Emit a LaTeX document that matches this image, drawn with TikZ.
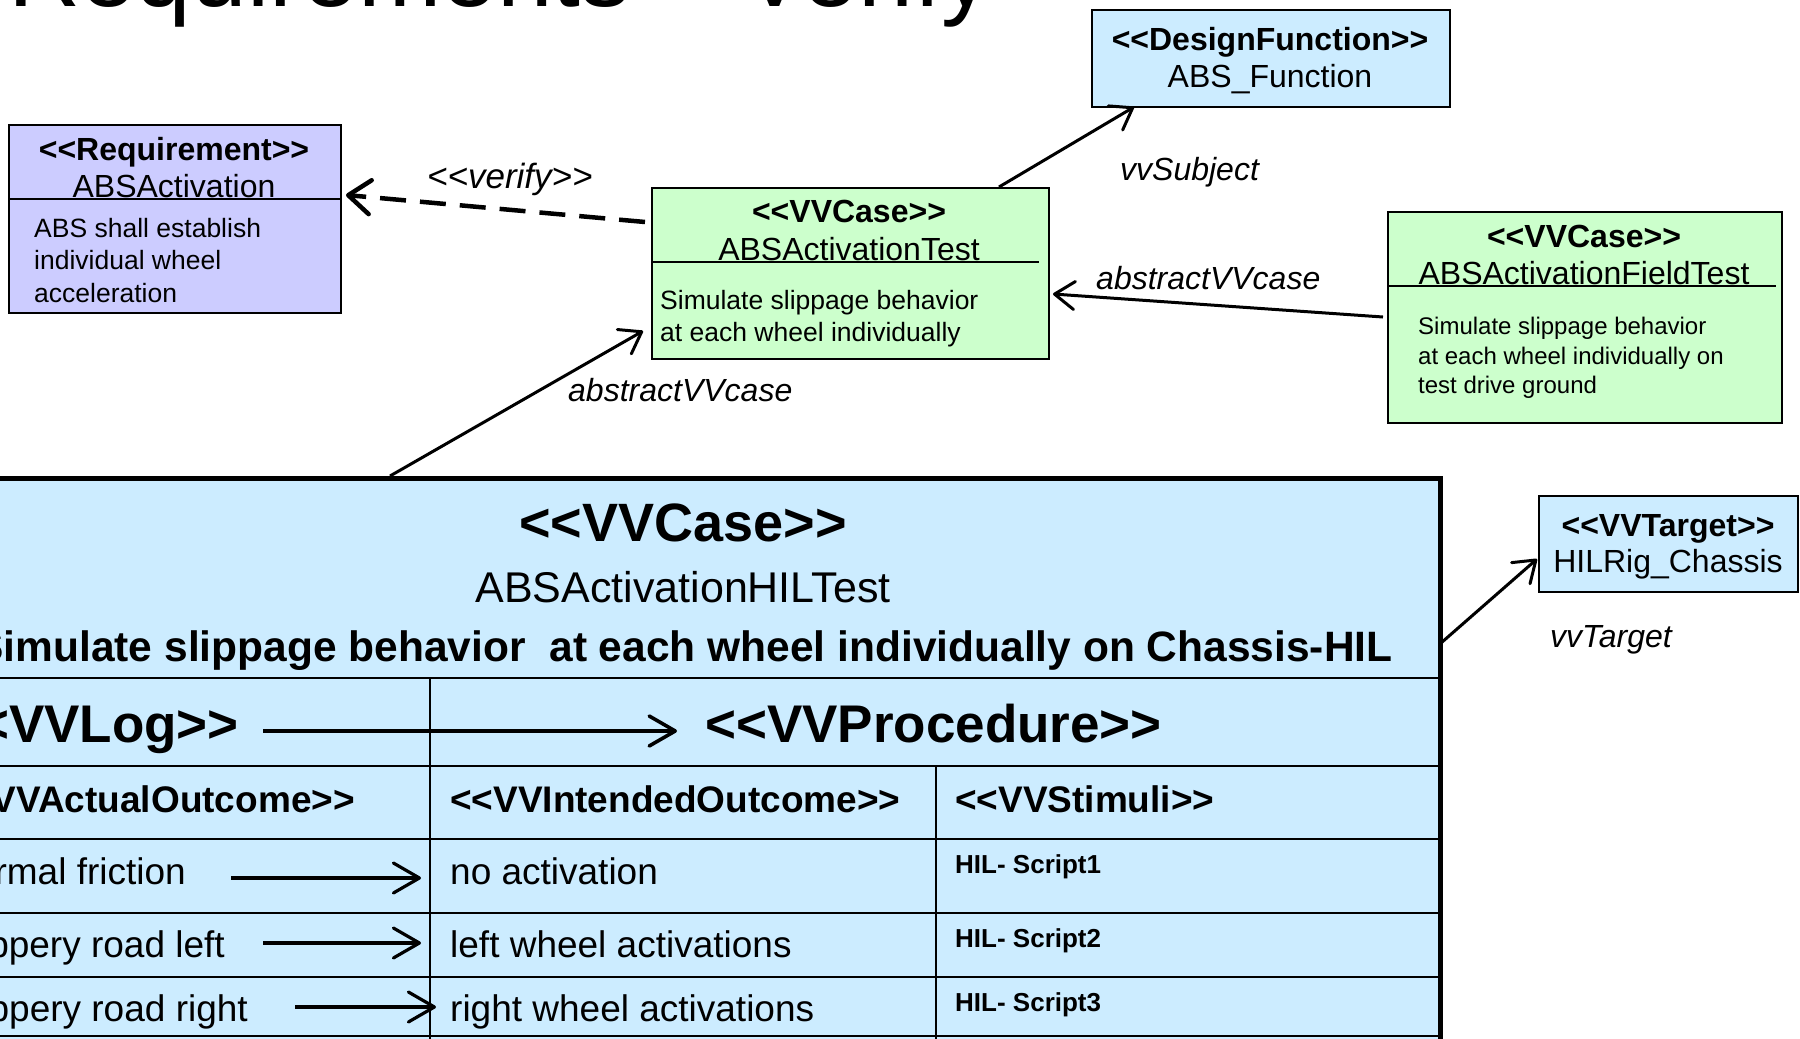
\documentclass[tikz,border=0pt]{standalone}
\usepackage{fontspec}
\setmainfont{Liberation Sans}
\usetikzlibrary{arrows.meta,calc}
\definecolor{reqfill}{HTML}{CCCCFF}
\definecolor{vvgreen}{HTML}{CCFFCC}
\definecolor{vvblue}{HTML}{CCECFF}
\newcommand{\fsz}[1]{\fontsize{#1}{#1}\selectfont}
\newcommand{\stereo}[1]{<{}<#1>{}>}
\begin{document}
\begin{tikzpicture}[x=1pt,y=-1pt,
  box/.style={draw=black, line width=2pt, rectangle, inner sep=0pt, anchor=north west},
  bigbox/.style={draw=black, line width=5pt, rectangle, inner sep=0pt, anchor=north west, fill=vvblue},
  txt/.style={inner sep=0pt, anchor=base},
  txtl/.style={inner sep=0pt, anchor=base west},
  txtr/.style={inner sep=0pt, anchor=base east},
  divider/.style={draw=black, line width=1.5pt},
  cell/.style={draw=black, line width=2.5pt},
  conn/.style={draw=black, line width=3pt, -{Straight Barb[length=20pt,width=28pt,round]}},
  verifyconn/.style={draw=black, line width=4.5pt, dash pattern=on 26pt off 14pt, -{Straight Barb[length=22pt,width=34pt,round]}},
  inner/.style={draw=black, line width=3.2pt, -{Straight Barb[length=26pt,width=30pt,round]}},
  lbl/.style={inner sep=0pt, anchor=base west, font=\fsz{32}\itshape}
]
\clip (0,0) rectangle (1800,1039);
\useasboundingbox (0,0) rectangle (1800,1039);
\fill[white] (0,0) rectangle (1800,1039);

% title (cut off at the top)
\node[txtl, font=\fsz{100}] (title) at (8,6) {Requirements – Verify};

% Requirement box
\node[box, fill=reqfill, minimum width=332pt, minimum height=188pt] (req) at (8,124) {};
\draw[divider] (req.west |- 0,199) -- (req.east |- 0,199);
\node[txt, font=\fsz{32}\bfseries] (reqst) at (174,160) {\stereo{Requirement}};
\node[txt, font=\fsz{32}] (reqname) at (174,197.5) {ABSActivation};
\node[txtl, font=\fsz{26.5}] (reqb1) at (34,237) {ABS shall establish};
\node[txtl, font=\fsz{26.5}] (reqb2) at (34,269.5) {individual wheel};
\node[txtl, font=\fsz{26.5}] (reqb3) at (34,302) {acceleration};

% DesignFunction box
\node[box, fill=vvblue, minimum width=358pt, minimum height=97pt] (func) at (1091,9) {};
\node[txt, font=\fsz{32}\bfseries] (funcst) at (1270,50.5) {\stereo{DesignFunction}};
\node[txt, font=\fsz{32}] (funcname) at (1270,87.5) {ABS\_Function};

% ABSActivationTest box
\node[box, fill=vvgreen, minimum width=397pt, minimum height=171pt] (test) at (651,187) {};
\draw[divider] (test.west |- 0,262) -- (1039,262);
\node[txt, font=\fsz{32}\bfseries] (testst) at (849,222.5) {\stereo{VVCase}};
\node[txt, font=\fsz{32}] (testname) at (849,260.5) {ABSActivationTest};
\node[txtl, font=\fsz{26.5}] (testb1) at (660,309.5) {Simulate slippage behavior};
\node[txtl, font=\fsz{26.5}] (testb2) at (660,341.5) {at each wheel individually};

% ABSActivationFieldTest box
\node[box, fill=vvgreen, minimum width=394pt, minimum height=211pt] (field) at (1387,211) {};
\draw[divider] (field.west |- 0,286) -- (1776,286);
\node[txt, font=\fsz{32}\bfseries] (fieldst) at (1584,247.5) {\stereo{VVCase}};
\node[txt, font=\fsz{32}] (fieldname) at (1584,284.5) {ABSActivationFieldTest};
\node[txtl, font=\fsz{24}] (fieldb1) at (1418,334.5) {Simulate slippage behavior};
\node[txtl, font=\fsz{24}] (fieldb2) at (1418,364.5) {at each wheel individually on};
\node[txtl, font=\fsz{24}] (fieldb3) at (1418,393.5) {test drive ground};

% VVTarget box
\node[box, fill=vvblue, minimum width=259pt, minimum height=96pt] (target) at (1538,495) {};
\node[txt, font=\fsz{32}\bfseries] (targetst) at (1668,536.5) {\stereo{VVTarget}};
\node[txt, font=\fsz{32}] (targetname) at (1668,572.5) {HILRig\_Chassis};

% big HIL test box
\node[bigbox, minimum width=1518pt, minimum height=590pt] (hil) at (-80,476) {};
\draw[cell] (hil.west |- 0,678) -- (hil.east |- 0,678);
\draw[cell] (hil.west |- 0,766) -- (hil.east |- 0,766);
\draw[cell] (hil.west |- 0,839) -- (hil.east |- 0,839);
\draw[cell] (hil.west |- 0,913) -- (hil.east |- 0,913);
\draw[cell] (hil.west |- 0,977) -- (hil.east |- 0,977);
\draw[cell] (hil.west |- 0,1036) -- (hil.east |- 0,1036);
\draw[cell] (430,678) -- (430,1039);
\draw[cell] (936,766) -- (936,1039);

\node[txt, font=\fsz{54}\bfseries] (hilst) at (683,541.5) {\stereo{VVCase}};
\node[txt, font=\fsz{43}] (hilname) at (683,602.5) {ABSActivationHILTest};
\node[txt, font=\fsz{42.5}\bfseries] (hildesc) at (684,661) {Simulate slippage behavior\ \ at each wheel individually on Chassis-HIL};

\node[txtr, font=\fsz{53}\bfseries] (vvlog) at (239,742) {\stereo{VVLog}};
\node[txtl, font=\fsz{53}\bfseries] (vvproc) at (705,742) {\stereo{VVProcedure}};
\coordinate (logA) at (263,731);
\coordinate (logB) at (677,731);
\draw[inner, line width=3.6pt] (logA) -- (logB);

\node[txtr, font=\fsz{37}\bfseries] (hact) at (355,812) {\stereo{VVActualOutcome}};
\node[txtl, font=\fsz{37}\bfseries] (hint) at (450,812) {\stereo{VVIntendedOutcome}};
\node[txtl, font=\fsz{37}\bfseries] (hstim) at (955,812) {\stereo{VVStimuli}};

\node[txtr, font=\fsz{37}] (a1) at (186,884) {normal friction};
\node[txtr, font=\fsz{37}] (a2) at (225,957) {slippery road left};
\node[txtr, font=\fsz{37}] (a3) at (248,1021) {slippery road right};
\node[txtl, font=\fsz{37}] (i1) at (450,884) {no activation};
\node[txtl, font=\fsz{37}] (i2) at (450,957) {left wheel activations};
\node[txtl, font=\fsz{37}] (i3) at (450,1021) {right wheel activations};
\node[txtl, font=\fsz{26}\bfseries] (s1) at (955,873) {HIL- Script1};
\node[txtl, font=\fsz{26}\bfseries] (s2) at (955,947) {HIL- Script2};
\node[txtl, font=\fsz{26}\bfseries] (s3) at (955,1011) {HIL- Script3};

\coordinate (r1a) at (231,878); \coordinate (r1b) at (421,878);
\coordinate (r2a) at (263,943); \coordinate (r2b) at (421,943);
\coordinate (r3a) at (295,1007); \coordinate (r3b) at (436,1007);
\draw[inner] (r1a) -- (r1b);
\draw[inner] (r2a) -- (r2b);
\draw[inner] (r3a) -- (r3b);

% connectors
\coordinate (verA) at (test.west |- 0,222);
\coordinate (verB) at (req.east |- 0,195);
\draw[verifyconn] ($(verA)+(-6,0)$) -- ($(verB)+(4,0)$);
\node[lbl, font=\fsz{35}\itshape] (verlbl) at (427,188.5) {\stereo{verify}};

\coordinate (subA) at (999,187);
\coordinate (subB) at (1134,107);
\draw[conn] (subA) -- (subB);
\node[lbl] (sublbl) at (1120,180.5) {vvSubject};

\coordinate (absA) at (1383,317);
\coordinate (absB) at (1053,294);
\draw[conn] (absA) -- (absB);
\node[lbl] (abslbl1) at (1096,289.5) {abstractVVcase};

\coordinate (abs2A) at (390,476);
\coordinate (abs2B) at (643,331);
\draw[conn] (abs2A) -- (abs2B);
\node[lbl] (abslbl2) at (568,401.5) {abstractVVcase};

\coordinate (tgA) at (1441,643);
\coordinate (tgB) at (1537,559);
\draw[conn] (tgA) -- (tgB);
\node[lbl] (tglbl) at (1550,647.5) {vvTarget};
\end{tikzpicture}
\end{document}
